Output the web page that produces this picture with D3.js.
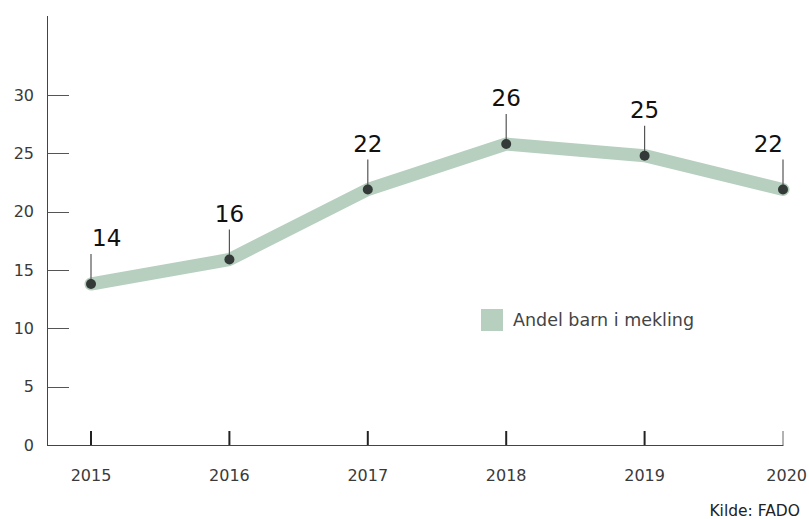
<!DOCTYPE html>
<html>
<head>
<meta charset="utf-8">
<script src="https://cdn.jsdelivr.net/npm/d3@7"></script>
<style>
  body { margin: 0; background: #fff; }
  text { font-family: "DejaVu Sans", "Open Sans", sans-serif; }
</style>
</head>
<body>
<div id="chart"></div>
<script>
const years = ["2015", "2016", "2017", "2018", "2019", "2020"];
const values = [13.8, 15.9, 21.9, 25.8, 24.8, 21.9];
const valueLabels = ["14", "16", "22", "26", "25", "22"];
const yTicks = [0, 5, 10, 15, 20, 25, 30];
const seriesName = "Andel barn i mekling";
const source = "Kilde: FADO";

const width = 809, height = 519;
const green = "#b6cfbf", dark = "#333a37";

const svg = d3.select("#chart").append("svg")
  .attr("width", width)
  .attr("height", height);

const x = d3.scalePoint().domain(years).range([91, 783]);
const y = d3.scaleLinear().domain([0, 30]).range([445, 95]);

// y axis line + short ticks to the right
svg.append("line")
  .attr("x1", 47.5).attr("x2", 47.5)
  .attr("y1", 16).attr("y2", y(0))
  .attr("stroke", "#444").attr("stroke-width", 1);

const yAxis = svg.append("g");
yAxis.selectAll("line.tick")
  .data(yTicks.filter(d => d > 0))
  .enter().append("line")
  .attr("x1", 47.5).attr("x2", 69)
  .attr("y1", d => Math.round(y(d)) + 0.5)
  .attr("y2", d => Math.round(y(d)) + 0.5)
  .attr("stroke", "#555");
yAxis.selectAll("text")
  .data(yTicks)
  .enter().append("text")
  .attr("x", 34)
  .attr("y", d => y(d))
  .attr("dy", "0.35em")
  .attr("text-anchor", "end")
  .attr("font-size", 16)
  .attr("fill", "#3a3a3a")
  .text(d => d);

// x baseline and upward ticks
svg.append("line")
  .attr("x1", 47).attr("x2", x("2020") + 0.5)
  .attr("y1", y(0) + 0.5).attr("y2", y(0) + 0.5)
  .attr("stroke", "#444");

svg.append("g").selectAll("line")
  .data(years)
  .enter().append("line")
  .attr("x1", d => x(d)).attr("x2", d => x(d))
  .attr("y1", y(0)).attr("y2", y(0) - 14)
  .attr("stroke", (d, i) => i === years.length - 1 ? "#666" : "#222")
  .attr("stroke-width", (d, i) => i === years.length - 1 ? 1 : 2);

svg.append("g").selectAll("text")
  .data(years)
  .enter().append("text")
  .attr("x", d => x(d))
  .attr("y", 481)
  .attr("text-anchor", (d, i) => i === years.length - 1 ? "end" : "middle")
  .attr("dx", (d, i) => i === years.length - 1 ? 24 : 0)
  .attr("font-size", 16)
  .attr("fill", "#3a3a3a")
  .text(d => d);

// series line
const data = years.map((yr, i) => ({ year: yr, value: values[i], label: valueLabels[i] }));

svg.append("path")
  .datum(data)
  .attr("fill", "none")
  .attr("stroke", green)
  .attr("stroke-width", 13)
  .attr("stroke-linecap", "round")
  .attr("stroke-linejoin", "round")
  .attr("d", d3.line().x(d => x(d.year)).y(d => y(d.value)));

// leaders, dots, value labels
const pts = svg.append("g").selectAll("g")
  .data(data)
  .enter().append("g");

pts.append("line")
  .attr("x1", d => x(d.year)).attr("x2", d => x(d.year))
  .attr("y1", d => y(d.value)).attr("y2", d => y(d.value) - 30)
  .attr("stroke", "#555").attr("stroke-width", 1.2);

pts.append("circle")
  .attr("cx", d => x(d.year))
  .attr("cy", d => y(d.value))
  .attr("r", 5)
  .attr("fill", dark);

pts.append("text")
  .attr("x", (d, i) => x(d.year) + (i === 0 ? 1 : 0))
  .attr("y", d => y(d.value) - 38)
  .attr("text-anchor", (d, i) => i === 0 ? "start" : i === data.length - 1 ? "end" : "middle")
  .attr("font-size", 23)
  .attr("fill", "#111")
  .text(d => d.label);

// legend
svg.append("rect")
  .attr("x", 481).attr("y", 309)
  .attr("width", 22).attr("height", 22)
  .attr("fill", green);
svg.append("text")
  .attr("x", 513).attr("y", 320)
  .attr("dy", "0.35em")
  .attr("font-size", 17.5)
  .attr("fill", "#444")
  .text(seriesName);

// source
svg.append("text")
  .attr("x", 800).attr("y", 516)
  .attr("text-anchor", "end")
  .attr("font-size", 15.5)
  .attr("fill", "#222")
  .text(source);
</script>
</body>
</html>
